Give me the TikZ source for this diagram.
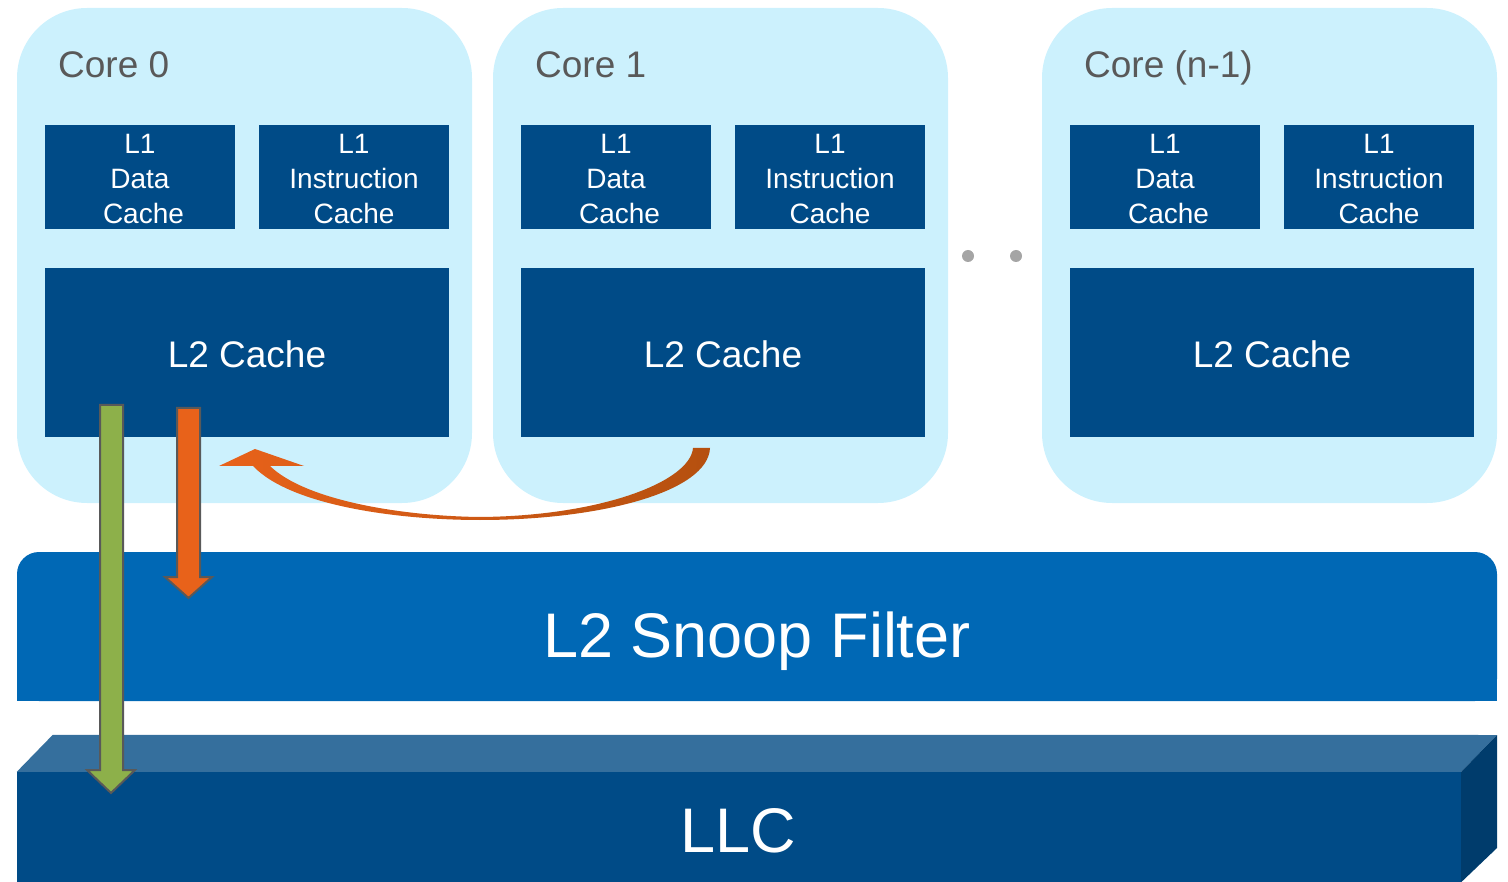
\documentclass[tikz,border=0pt]{standalone}
\usepackage{fontspec}
\setmainfont{Liberation Sans}
\usetikzlibrary{calc}

\definecolor{corebg}{HTML}{CCF1FD}
\definecolor{cachebl}{HTML}{004B87}
\definecolor{snoopbl}{HTML}{0068B5}
\definecolor{llctop}{HTML}{356F9D}
\definecolor{llcside}{HTML}{003C6C}
\definecolor{labelgray}{HTML}{595959}
\definecolor{dotgray}{HTML}{A5A5A5}
\definecolor{evictgreen}{HTML}{8DB04A}
\definecolor{fillorange}{HTML}{E8621A}
\definecolor{darkorange}{HTML}{B5500F}
\definecolor{outlinegray}{HTML}{595959}

% struts that push box text a little below centre
\newcommand{\lonestrut}{\rule{0pt}{24pt}}
\newcommand{\ltwostrut}{\rule{0pt}{30.5pt}}

\tikzset{
  corebox/.style={fill=corebg, rounded corners=70pt, minimum width=455pt,
    minimum height=495pt, inner sep=0pt},
  corelabel/.style={anchor=base west, text=labelgray, inner sep=0pt,
    font=\fontsize{37}{44}\selectfont},
  lonebox/.style={fill=cachebl, text=white, minimum width=190pt,
    minimum height=104pt, inner sep=0pt, align=center,
    font=\fontsize{28}{35}\selectfont},
  ltwobox/.style={fill=cachebl, text=white, minimum width=404pt,
    minimum height=169pt, inner sep=0pt,
    font=\fontsize{37}{44}\selectfont},
  bigtext/.style={text=white, inner sep=0pt, anchor=base,
    font=\fontsize{63}{70}\selectfont},
  blockarrow/.style={draw=outlinegray, line width=2pt, line join=miter},
}

\begin{document}
\begin{tikzpicture}[x=1pt, y=-1pt]
\useasboundingbox (0,0) rectangle (1508,882);

% cores
\node[corebox] (core0) at (244.5,255.5) {};
\node[corebox] (core1) at (720.5,255.5) {};
\node[corebox] (coren) at (1269.5,255.5) {};

\node[corelabel] (lab0) at (58,78) {Core 0};
\node[corelabel] (lab1) at (535,78) {Core 1};
\node[corelabel] (labn) at (1084,78) {Core (n-1)};

% L1 caches
\node[lonebox] (d0) at (140,177) {\lonestrut L1\\Data\\\hspace*{7pt}Cache};
\node[lonebox] (i0) at (354,177) {\lonestrut L1\\Instruction\\Cache};
\node[lonebox] (d1) at (616,177) {\lonestrut L1\\Data\\\hspace*{7pt}Cache};
\node[lonebox] (i1) at (830,177) {\lonestrut L1\\Instruction\\Cache};
\node[lonebox] (dn) at (1165,177) {\lonestrut L1\\Data\\\hspace*{7pt}Cache};
\node[lonebox] (in) at (1379,177) {\lonestrut L1\\Instruction\\Cache};

% L2 caches
\node[ltwobox] (l20) at (247,352.5) {\ltwostrut L2 Cache};
\node[ltwobox] (l21) at (723,352.5) {\ltwostrut L2 Cache};
\node[ltwobox] (l2n) at (1272,352.5) {\ltwostrut L2 Cache};

% ellipsis between cores
\fill[dotgray] (968,256) circle (6pt);
\fill[dotgray] (1016,256) circle (6pt);

% snoop filter (rounded on top only)
\fill[snoopbl, rounded corners=22pt] (17,552) rectangle (1497,701);
\fill[snoopbl] (17,620) rectangle (1497,701);
\coordinate (snoop) at (757,626.5);
\node[bigtext] (snooptxt) at (757,657) {L2 Snoop Filter};

% last level cache as a slab
\node[fill=cachebl, minimum width=1444pt, minimum height=110pt, inner sep=0pt]
  (llc) at (739,827) {};
\fill[llctop] (llc.north west) -- ++(36,-37) -- (1497,735) -- (llc.north east) -- cycle;
\fill[llcside] (llc.north east) -- (1497,735) -- (1497,848) -- (llc.south east) -- cycle;
\node[bigtext] (llctxt) at (738,852) {LLC};

% line moved from core 1 L2 into core 0 L2
\shade[left color=fillorange, middle color=fillorange, right color=darkorange]
  (219,466) -- (255,449) -- (304,466) -- (270,466)
  .. controls (305,500) and (400,516) .. (480,517)
  .. controls (600,516) and (690,482) .. (693,448)
  -- (710,448)
  .. controls (708,492) and (600,520) .. (480,520)
  .. controls (395,520) and (290,505) .. (253,466) -- cycle;

% eviction to LLC
\filldraw[blockarrow, fill=evictgreen]
  (100,405) -- (123,405) -- (123,770) -- (135,770) -- (111,793)
  -- (87,770) -- (100,770) -- cycle;

% lookup into the snoop filter
\filldraw[blockarrow, fill=fillorange]
  (177,408) -- (200,408) -- (200,577) -- (212,577) -- (188.5,598)
  -- (165,577) -- (177,577) -- cycle;
\end{tikzpicture}
\end{document}
